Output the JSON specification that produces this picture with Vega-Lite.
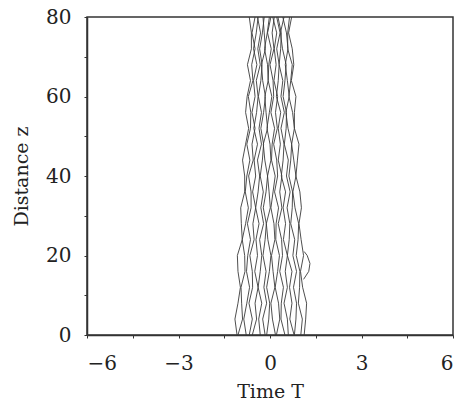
{
  "$schema": "https://vega.github.io/schema/vega-lite/v6.json",
  "width": 366,
  "height": 318,
  "autosize": {"type": "none"},
  "padding": {"left": 87, "top": 17, "right": 10, "bottom": 70},
  "background": "white",
  "config": {
    "view": {"stroke": "#333", "strokeWidth": 1.5},
    "font": "DejaVu Serif",
    "axis": {"grid": false, "domainColor": "#333", "domainWidth": 1.5, "tickColor": "#333", "tickSize": 3, "labelFont": "DejaVu Serif", "titleFont": "DejaVu Serif", "labelFontSize": 20, "titleFontSize": 19, "labelColor": "#222", "titleColor": "#222", "titleFontWeight": "normal"}
  },
  "data": {"values": [
    {"l":1,"z":0,"t":-1.08},{"l":1,"z":4,"t":-1.15},{"l":1,"z":8,"t":-1.05},{"l":1,"z":12,"t":-0.97},{"l":1,"z":16,"t":-1.05},{"l":1,"z":20,"t":-1.07},{"l":1,"z":24,"t":-0.91},{"l":1,"z":28,"t":-0.94},{"l":1,"z":32,"t":-0.96},{"l":1,"z":36,"t":-0.83},{"l":1,"z":40,"t":-0.83},{"l":1,"z":44,"t":-0.90},{"l":1,"z":48,"t":-0.80},{"l":1,"z":52,"t":-0.70},{"l":1,"z":56,"t":-0.80},{"l":1,"z":60,"t":-0.75},{"l":1,"z":64,"t":-0.64},{"l":1,"z":68,"t":-0.74},{"l":1,"z":72,"t":-0.61},{"l":1,"z":76,"t":-0.61},{"l":1,"z":80,"t":-0.68},
    {"l":2,"z":0,"t":-1.05},{"l":2,"z":4,"t":-0.90},{"l":2,"z":8,"t":-0.93},{"l":2,"z":12,"t":-0.95},{"l":2,"z":16,"t":-0.82},{"l":2,"z":20,"t":-0.83},{"l":2,"z":24,"t":-0.91},{"l":2,"z":28,"t":-0.80},{"l":2,"z":32,"t":-0.71},{"l":2,"z":36,"t":-0.81},{"l":2,"z":40,"t":-0.76},{"l":2,"z":44,"t":-0.66},{"l":2,"z":48,"t":-0.76},{"l":2,"z":52,"t":-0.64},{"l":2,"z":56,"t":-0.63},{"l":2,"z":60,"t":-0.71},{"l":2,"z":64,"t":-0.56},{"l":2,"z":68,"t":-0.60},{"l":2,"z":72,"t":-0.49},{"l":2,"z":76,"t":-0.59},{"l":2,"z":80,"t":-0.49},
    {"l":3,"z":0,"t":-0.78},{"l":3,"z":4,"t":-0.86},{"l":3,"z":8,"t":-0.76},{"l":3,"z":12,"t":-0.67},{"l":3,"z":16,"t":-0.77},{"l":3,"z":20,"t":-0.73},{"l":3,"z":24,"t":-0.64},{"l":3,"z":28,"t":-0.74},{"l":3,"z":32,"t":-0.62},{"l":3,"z":36,"t":-0.62},{"l":3,"z":40,"t":-0.70},{"l":3,"z":44,"t":-0.55},{"l":3,"z":48,"t":-0.59},{"l":3,"z":52,"t":-0.49},{"l":3,"z":56,"t":-0.59},{"l":3,"z":60,"t":-0.49},{"l":3,"z":64,"t":-0.54},{"l":3,"z":68,"t":-0.43},{"l":3,"z":72,"t":-0.54},{"l":3,"z":76,"t":-0.45},{"l":3,"z":80,"t":-0.39},
    {"l":4,"z":0,"t":-0.68},{"l":4,"z":4,"t":-0.58},{"l":4,"z":8,"t":-0.69},{"l":4,"z":12,"t":-0.57},{"l":4,"z":16,"t":-0.58},{"l":4,"z":20,"t":-0.66},{"l":4,"z":24,"t":-0.52},{"l":4,"z":28,"t":-0.56},{"l":4,"z":32,"t":-0.47},{"l":4,"z":36,"t":-0.57},{"l":4,"z":40,"t":-0.47},{"l":4,"z":44,"t":-0.52},{"l":4,"z":48,"t":-0.41},{"l":4,"z":52,"t":-0.53},{"l":4,"z":56,"t":-0.44},{"l":4,"z":60,"t":-0.39},{"l":4,"z":64,"t":-0.45},{"l":4,"z":68,"t":-0.32},{"l":4,"z":72,"t":-0.40},{"l":4,"z":76,"t":-0.31},{"l":4,"z":80,"t":-0.41},
    {"l":5,"z":0,"t":-0.58},{"l":5,"z":4,"t":-0.44},{"l":5,"z":8,"t":-0.49},{"l":5,"z":12,"t":-0.39},{"l":5,"z":16,"t":-0.50},{"l":5,"z":20,"t":-0.41},{"l":5,"z":24,"t":-0.46},{"l":5,"z":28,"t":-0.36},{"l":5,"z":32,"t":-0.47},{"l":5,"z":36,"t":-0.39},{"l":5,"z":40,"t":-0.34},{"l":5,"z":44,"t":-0.41},{"l":5,"z":48,"t":-0.28},{"l":5,"z":52,"t":-0.36},{"l":5,"z":56,"t":-0.28},{"l":5,"z":60,"t":-0.38},{"l":5,"z":64,"t":-0.30},{"l":5,"z":68,"t":-0.26},{"l":5,"z":72,"t":-0.34},{"l":5,"z":76,"t":-0.25},{"l":5,"z":80,"t":-0.19},
    {"l":6,"z":0,"t":-0.32},{"l":6,"z":4,"t":-0.37},{"l":6,"z":8,"t":-0.27},{"l":6,"z":12,"t":-0.39},{"l":6,"z":16,"t":-0.32},{"l":6,"z":20,"t":-0.27},{"l":6,"z":24,"t":-0.34},{"l":6,"z":28,"t":-0.21},{"l":6,"z":32,"t":-0.30},{"l":6,"z":36,"t":-0.22},{"l":6,"z":40,"t":-0.32},{"l":6,"z":44,"t":-0.25},{"l":6,"z":48,"t":-0.21},{"l":6,"z":52,"t":-0.30},{"l":6,"z":56,"t":-0.21},{"l":6,"z":60,"t":-0.15},{"l":6,"z":64,"t":-0.24},{"l":6,"z":68,"t":-0.28},{"l":6,"z":72,"t":-0.15},{"l":6,"z":76,"t":-0.19},{"l":6,"z":80,"t":-0.23},
    {"l":7,"z":0,"t":-0.16},{"l":7,"z":4,"t":-0.24},{"l":7,"z":8,"t":-0.11},{"l":7,"z":12,"t":-0.20},{"l":7,"z":16,"t":-0.13},{"l":7,"z":20,"t":-0.23},{"l":7,"z":24,"t":-0.16},{"l":7,"z":28,"t":-0.12},{"l":7,"z":32,"t":-0.22},{"l":7,"z":36,"t":-0.13},{"l":7,"z":40,"t":-0.08},{"l":7,"z":44,"t":-0.17},{"l":7,"z":48,"t":-0.22},{"l":7,"z":52,"t":-0.08},{"l":7,"z":56,"t":-0.13},{"l":7,"z":60,"t":-0.17},{"l":7,"z":64,"t":-0.06},{"l":7,"z":68,"t":-0.08},{"l":7,"z":72,"t":-0.18},{"l":7,"z":76,"t":-0.09},{"l":7,"z":80,"t":-0.02},
    {"l":8,"z":0,"t":-0.11},{"l":8,"z":4,"t":-0.04},{"l":8,"z":8,"t":-0.01},{"l":8,"z":12,"t":-0.11},{"l":8,"z":16,"t":-0.02},{"l":8,"z":20,"t":0.03},{"l":8,"z":24,"t":-0.07},{"l":8,"z":28,"t":-0.12},{"l":8,"z":32,"t":0.01},{"l":8,"z":36,"t":-0.03},{"l":8,"z":40,"t":-0.08},{"l":8,"z":44,"t":0.03},{"l":8,"z":48,"t":0.00},{"l":8,"z":52,"t":-0.10},{"l":8,"z":56,"t":-0.02},{"l":8,"z":60,"t":0.06},{"l":8,"z":64,"t":-0.06},{"l":8,"z":68,"t":-0.04},{"l":8,"z":72,"t":0.04},{"l":8,"z":76,"t":-0.08},{"l":8,"z":80,"t":0.03},
    {"l":9,"z":0,"t":0.18},{"l":9,"z":4,"t":0.08},{"l":9,"z":8,"t":0.03},{"l":9,"z":12,"t":0.16},{"l":9,"z":16,"t":0.10},{"l":9,"z":20,"t":0.05},{"l":9,"z":24,"t":0.16},{"l":9,"z":28,"t":0.13},{"l":9,"z":32,"t":0.03},{"l":9,"z":36,"t":0.10},{"l":9,"z":40,"t":0.17},{"l":9,"z":44,"t":0.05},{"l":9,"z":48,"t":0.07},{"l":9,"z":52,"t":0.15},{"l":9,"z":56,"t":0.03},{"l":9,"z":60,"t":0.12},{"l":9,"z":64,"t":0.10},{"l":9,"z":68,"t":0.00},{"l":9,"z":72,"t":0.13},{"l":9,"z":76,"t":0.07},{"l":9,"z":80,"t":0.14},
    {"l":10,"z":0,"t":0.21},{"l":10,"z":4,"t":0.32},{"l":10,"z":8,"t":0.28},{"l":10,"z":12,"t":0.17},{"l":10,"z":16,"t":0.25},{"l":10,"z":20,"t":0.31},{"l":10,"z":24,"t":0.19},{"l":10,"z":28,"t":0.20},{"l":10,"z":32,"t":0.28},{"l":10,"z":36,"t":0.15},{"l":10,"z":40,"t":0.25},{"l":10,"z":44,"t":0.22},{"l":10,"z":48,"t":0.12},{"l":10,"z":52,"t":0.24},{"l":10,"z":56,"t":0.18},{"l":10,"z":60,"t":0.25},{"l":10,"z":64,"t":0.13},{"l":10,"z":68,"t":0.20},{"l":10,"z":72,"t":0.14},{"l":10,"z":76,"t":0.22},{"l":10,"z":80,"t":0.09},
    {"l":11,"z":0,"t":0.49},{"l":11,"z":4,"t":0.36},{"l":11,"z":8,"t":0.37},{"l":11,"z":12,"t":0.44},{"l":11,"z":16,"t":0.32},{"l":11,"z":20,"t":0.41},{"l":11,"z":24,"t":0.38},{"l":11,"z":28,"t":0.27},{"l":11,"z":32,"t":0.39},{"l":11,"z":36,"t":0.32},{"l":11,"z":40,"t":0.39},{"l":11,"z":44,"t":0.27},{"l":11,"z":48,"t":0.34},{"l":11,"z":52,"t":0.27},{"l":11,"z":56,"t":0.35},{"l":11,"z":60,"t":0.21},{"l":11,"z":64,"t":0.27},{"l":11,"z":68,"t":0.30},{"l":11,"z":72,"t":0.22},{"l":11,"z":76,"t":0.33},{"l":11,"z":80,"t":0.22},
    {"l":12,"z":0,"t":0.60},{"l":12,"z":4,"t":0.57},{"l":12,"z":8,"t":0.46},{"l":12,"z":12,"t":0.57},{"l":12,"z":16,"t":0.50},{"l":12,"z":20,"t":0.57},{"l":12,"z":24,"t":0.44},{"l":12,"z":28,"t":0.51},{"l":12,"z":32,"t":0.43},{"l":12,"z":36,"t":0.51},{"l":12,"z":40,"t":0.37},{"l":12,"z":44,"t":0.43},{"l":12,"z":48,"t":0.46},{"l":12,"z":52,"t":0.36},{"l":12,"z":56,"t":0.47},{"l":12,"z":60,"t":0.36},{"l":12,"z":64,"t":0.42},{"l":12,"z":68,"t":0.30},{"l":12,"z":72,"t":0.35},{"l":12,"z":76,"t":0.37},{"l":12,"z":80,"t":0.26},
    {"l":13,"z":0,"t":0.79},{"l":13,"z":4,"t":0.65},{"l":13,"z":8,"t":0.72},{"l":13,"z":12,"t":0.64},{"l":13,"z":16,"t":0.72},{"l":13,"z":20,"t":0.57},{"l":13,"z":24,"t":0.63},{"l":13,"z":28,"t":0.65},{"l":13,"z":32,"t":0.56},{"l":13,"z":36,"t":0.66},{"l":13,"z":40,"t":0.54},{"l":13,"z":44,"t":0.60},{"l":13,"z":48,"t":0.47},{"l":13,"z":52,"t":0.53},{"l":13,"z":56,"t":0.54},{"l":13,"z":60,"t":0.43},{"l":13,"z":64,"t":0.49},{"l":13,"z":68,"t":0.53},{"l":13,"z":72,"t":0.41},{"l":13,"z":76,"t":0.34},{"l":13,"z":80,"t":0.46},
    {"l":14,"z":0,"t":0.80},{"l":14,"z":4,"t":0.85},{"l":14,"z":8,"t":0.87},{"l":14,"z":12,"t":0.77},{"l":14,"z":16,"t":0.87},{"l":14,"z":20,"t":0.75},{"l":14,"z":24,"t":0.81},{"l":14,"z":28,"t":0.68},{"l":14,"z":32,"t":0.73},{"l":14,"z":36,"t":0.74},{"l":14,"z":40,"t":0.62},{"l":14,"z":44,"t":0.68},{"l":14,"z":48,"t":0.71},{"l":14,"z":52,"t":0.59},{"l":14,"z":56,"t":0.52},{"l":14,"z":60,"t":0.63},{"l":14,"z":64,"t":0.57},{"l":14,"z":68,"t":0.50},{"l":14,"z":72,"t":0.59},{"l":14,"z":76,"t":0.54},{"l":14,"z":80,"t":0.42},
    {"l":15,"z":0,"t":1.01},{"l":15,"z":4,"t":1.06},{"l":15,"z":8,"t":0.93},{"l":15,"z":12,"t":0.97},{"l":15,"z":16,"t":0.98},{"l":15,"z":20,"t":0.86},{"l":15,"z":24,"t":0.92},{"l":15,"z":28,"t":0.94},{"l":15,"z":32,"t":0.82},{"l":15,"z":36,"t":0.75},{"l":15,"z":40,"t":0.85},{"l":15,"z":44,"t":0.78},{"l":15,"z":48,"t":0.71},{"l":15,"z":52,"t":0.80},{"l":15,"z":56,"t":0.74},{"l":15,"z":60,"t":0.62},{"l":15,"z":64,"t":0.68},{"l":15,"z":68,"t":0.73},{"l":15,"z":72,"t":0.58},{"l":15,"z":76,"t":0.58},{"l":15,"z":80,"t":0.64},
    {"l":16,"z":0,"t":1.12},{"l":16,"z":4,"t":1.17},{"l":16,"z":8,"t":1.20},{"l":16,"z":12,"t":1.07},{"l":16,"z":16,"t":1.00},{"l":16,"z":20,"t":1.10},{"l":16,"z":24,"t":1.02},{"l":16,"z":28,"t":0.95},{"l":16,"z":32,"t":1.03},{"l":16,"z":36,"t":0.98},{"l":16,"z":40,"t":0.85},{"l":16,"z":44,"t":0.90},{"l":16,"z":48,"t":0.95},{"l":16,"z":52,"t":0.80},{"l":16,"z":56,"t":0.80},{"l":16,"z":60,"t":0.85},{"l":16,"z":64,"t":0.70},{"l":16,"z":68,"t":0.78},{"l":16,"z":72,"t":0.73},{"l":16,"z":76,"t":0.61},{"l":16,"z":80,"t":0.71},
    {"l":17,"z":14,"t":1.10},{"l":17,"z":16,"t":1.27},{"l":17,"z":18,"t":1.31},{"l":17,"z":20,"t":1.22},{"l":17,"z":21,"t":1.12}
  ]},
  "mark": {"type": "line", "color": "#3a3a3a", "strokeWidth": 0.9, "clip": true},
  "encoding": {
    "x": {"field": "t", "type": "quantitative", "scale": {"domain": [-6, 6], "nice": false},
      "axis": {"title": "Time T", "values": [-6, -4.5, -3, -1.5, 0, 1.5, 3, 4.5, 6], "labelExpr": "datum.value % 3 === 0 ? replace(datum.label, '-', '−') : ''", "labelPadding": 15, "titlePadding": 9}},
    "y": {"field": "z", "type": "quantitative", "scale": {"domain": [0, 80], "nice": false},
      "axis": {"title": "Distance z", "values": [0, 10, 20, 30, 40, 50, 60, 70, 80], "labelExpr": "datum.value % 20 === 0 ? datum.label : ''", "labelPadding": 13, "titlePadding": 14}},
    "detail": {"field": "l", "type": "nominal"},
    "order": {"field": "z", "type": "quantitative"}
  }
}
